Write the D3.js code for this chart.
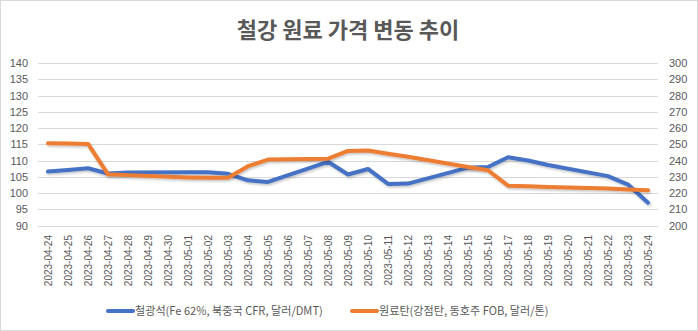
<!DOCTYPE html>
<html><head><meta charset="utf-8">
<script src="https://cdn.jsdelivr.net/npm/d3@7"></script>
<style>
html,body{margin:0;padding:0;background:#fff;}
svg{display:block;}
</style></head>
<body>
<script>
const dates = ["2023-04-24","2023-04-25","2023-04-26","2023-04-27","2023-04-28","2023-04-29","2023-04-30","2023-05-01","2023-05-02","2023-05-03","2023-05-04","2023-05-05","2023-05-06","2023-05-07","2023-05-08","2023-05-09","2023-05-10","2023-05-11","2023-05-12","2023-05-13","2023-05-14","2023-05-15","2023-05-16","2023-05-17","2023-05-18","2023-05-19","2023-05-20","2023-05-21","2023-05-22","2023-05-23","2023-05-24"];
const ironOre = [106.6,107.1,107.6,106.0,106.3,null,null,106.4,106.4,105.9,103.9,103.4,null,null,109.6,105.7,107.4,102.8,102.9,null,null,107.8,108.0,111.0,110.0,108.6,null,null,105.2,102.6,97.0];
const cokingCoal = [250.6,250.4,250.2,231.5,231.0,null,null,229.6,229.4,229.4,236.5,240.6,null,null,241.1,245.9,246.1,244.2,242.3,null,null,236.0,234.0,224.5,224.1,223.7,null,null,222.7,222.2,221.7];
const leftTicks = [90,95,100,105,110,115,120,125,130,135,140];
const rightTicks = [200,210,220,230,240,250,260,270,280,290,300];
const title = "철강 원료 가격 변동 추이";
const seriesNames = ["철광석(Fe 62%, 북중국 CFR, 달러/DMT)","원료탄(강점탄, 동호주 FOB, 달러/톤)"];

const W = 698, H = 331;
const svg = d3.select("body").append("svg").attr("width", W).attr("height", H);
const defs = svg.append("defs");
const f = defs.append("filter").attr("id","sh").attr("x","-5%").attr("y","-20%").attr("width","110%").attr("height","140%");
f.append("feDropShadow").attr("dx",1).attr("dy",1.5).attr("stdDeviation",1).attr("flood-color","#000").attr("flood-opacity",0.25);

svg.append("rect").attr("x",0.5).attr("y",0.5).attr("width",W-1).attr("height",H-1).attr("fill","#fff").attr("stroke","#d9d9d9");

const font = "'Noto Sans CJK KR','Noto Sans',sans-serif";
const tickFont = "'Liberation Sans','DejaVu Sans',sans-serif";
const grey = "#595959";

svg.append("text").attr("x",348).attr("y",38).attr("text-anchor","middle")
  .attr("font-family",font).attr("font-weight","bold").attr("font-size",22).attr("fill",grey).text(title);

const x = d3.scalePoint().domain(dates).range([38,658]).padding(0.5);
const yL = d3.scaleLinear().domain([90,140]).range([225.5,63]);
const yR = d3.scaleLinear().domain([200,300]).range([225.5,63]);

// gridlines
svg.append("g").selectAll("line").data(leftTicks).join("line")
  .attr("x1",38).attr("x2",658).attr("y1",d=>Math.round(yL(d))+0.5).attr("y2",d=>Math.round(yL(d))+0.5)
  .attr("stroke","#d9d9d9").attr("stroke-width",1);

// left axis
const gl = svg.append("g").attr("transform","translate(38,0)")
  .call(d3.axisLeft(yL).tickValues(leftTicks).tickSize(0).tickPadding(10));
gl.select(".domain").remove();
gl.selectAll("text").attr("font-family",tickFont).attr("font-size",11).attr("fill",grey);

// right axis
const gr = svg.append("g").attr("transform","translate(658,0)")
  .call(d3.axisRight(yR).tickValues(rightTicks).tickSize(0).tickPadding(11));
gr.select(".domain").remove();
gr.selectAll("text").attr("font-family",tickFont).attr("font-size",11).attr("fill",grey);

// x axis
const gx = svg.append("g").attr("transform","translate(0,226)")
  .call(d3.axisBottom(x).tickSize(0).tickPadding(0));
gx.select(".domain").remove();
gx.selectAll("text").attr("font-family",tickFont).attr("font-size",10).attr("fill",grey)
  .attr("transform","translate(0,9) rotate(-90)").attr("text-anchor","end").attr("dx",0).attr("dy","0.35em").attr("x",0).attr("y",0);

// lines
const lineL = d3.line().x(d=>x(d.date)).y(d=>yL(d.v));
const lineR = d3.line().x(d=>x(d.date)).y(d=>yR(d.v));
const ironPts = dates.map((d,i)=>({date:d,v:ironOre[i]})).filter(d=>d.v!=null);
const coalPts = dates.map((d,i)=>({date:d,v:cokingCoal[i]})).filter(d=>d.v!=null);

svg.append("path").datum(ironPts).attr("d",lineL).attr("fill","none").attr("stroke","#4472C4")
  .attr("stroke-width",4).attr("stroke-linejoin","round").attr("stroke-linecap","round").attr("filter","url(#sh)");
svg.append("path").datum(coalPts).attr("d",lineR).attr("fill","none").attr("stroke","#ED7D31")
  .attr("stroke-width",4).attr("stroke-linejoin","round").attr("stroke-linecap","round").attr("filter","url(#sh)");

// legend
const legend = [{x:108,c:"#4472C4",t:seriesNames[0]},{x:352,c:"#ED7D31",t:seriesNames[1]}];
const lg = svg.append("g").selectAll("g").data(legend).join("g");
lg.append("line").attr("x1",d=>d.x).attr("x2",d=>d.x+25).attr("y1",311).attr("y2",311)
  .attr("stroke",d=>d.c).attr("stroke-width",4).attr("stroke-linecap","round");
lg.append("text").attr("x",d=>d.x+27).attr("y",315).attr("font-family",font).attr("font-size",11.1)
  .attr("fill",grey).text(d=>d.t);
</script>
</body></html>
